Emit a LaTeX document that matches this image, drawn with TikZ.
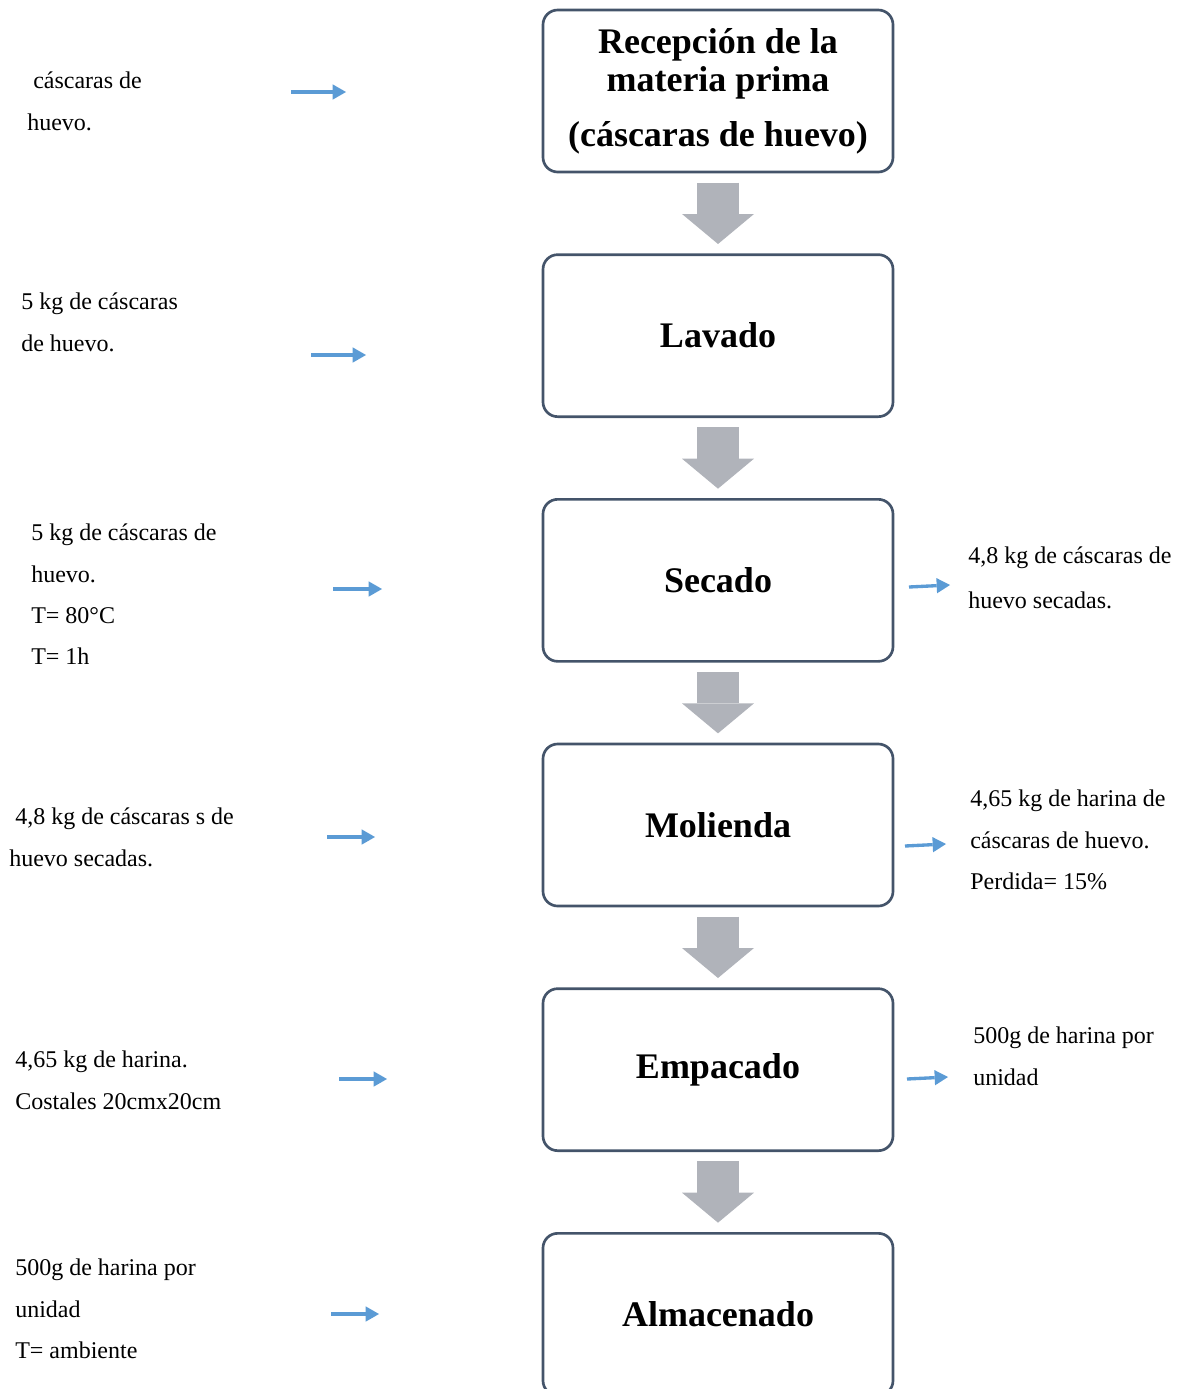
\documentclass[tikz,border=0pt]{standalone}
\usepackage{fontspec}
\setmainfont{Liberation Serif}
\usetikzlibrary{arrows.meta, positioning}

\definecolor{boxline}{HTML}{44546A}
\definecolor{flowgray}{HTML}{B0B3BA}
\definecolor{feedblue}{HTML}{5B9BD5}

\tikzset{
    stage/.style={draw=boxline, line width=2pt, rounded corners=11pt,
        minimum width=262.5pt, minimum height=121.5pt, align=center,
        font=\fontsize{27}{29}\selectfont\bfseries},
    flow/.style={draw=flowgray, line width=32pt,
        -{Triangle[length=22.5pt, width=54pt, line width=0pt]},
        shorten <=7pt, shorten >=7pt},
    feed/.style={draw=feedblue, line width=2.5pt,
        -{Triangle[length=10pt, width=11.5pt, line width=0pt]}},
    note/.style={anchor=north west, inner sep=0pt, align=left,
        font=\fontsize{18}{31}\selectfont, execute at begin node=\strut},
}

\begin{document}
\begin{tikzpicture}[x=0.75pt, y=-0.75pt, node distance=60pt]
    \useasboundingbox (0,0) rectangle (1179,1389);

    % process stages
    \node[stage] (recepcion) at (718,91) {Recepción de la\\materia prima\\[12pt](cáscaras de huevo)};
    \node[stage, below=of recepcion] (lavado) {Lavado};
    \node[stage, below=of lavado] (secado) {Secado};
    \node[stage, below=of secado] (molienda) {Molienda};
    \node[stage, below=of molienda] (empacado) {Empacado};
    \node[stage, below=of empacado] (almacenado) {Almacenado};

    \draw[flow] (recepcion) -- (lavado);
    \draw[flow] (lavado) -- (secado);
    \draw[flow] (secado) -- (molienda);
    \draw[flow] (molienda) -- (empacado);
    \draw[flow] (empacado) -- (almacenado);

    % inputs
    \node[note] (in1) at (27,72) {\hspace{4.5pt}cáscaras de\\huevo.};
    \node[note] (in2) at (21,293) {5 kg de cáscaras\\de huevo.};
    \node[note] (in3) at (31,524) {5 kg de cáscaras de\\huevo.\\T= 80°C\\T= 1h};
    \node[note] (in4) at (9,808) {\hspace{4.5pt}4,8 kg de cáscaras s de\\huevo secadas.};
    \node[note] (in5) at (15,1051) {4,65 kg de harina.\\Costales 20cmx20cm};
    \node[note] (in6) at (15,1259) {500g de harina por\\unidad\\T= ambiente};

    % outputs
    \node[note] (out3) at (968,547) {4,8 kg de cáscaras de\\[2.25pt]huevo secadas.};
    \node[note] (out4) at (970,790) {4,65 kg de harina de\\cáscaras de huevo.\\Perdida= 15\%};
    \node[note] (out5) at (973,1027) {500g de harina por\\unidad};

    \coordinate (a1) at (291,92);   \coordinate (b1) at (346,92);
    \coordinate (a2) at (311,355);  \coordinate (b2) at (366,355);
    \coordinate (a3) at (333,589);  \coordinate (b3) at (382,589);
    \coordinate (a4) at (327,837);  \coordinate (b4) at (375,837);
    \coordinate (a5) at (339,1079); \coordinate (b5) at (387,1079);
    \coordinate (a6) at (331,1314); \coordinate (b6) at (379,1314);
    \coordinate (c3) at (909,587);  \coordinate (d3) at (950,585);
    \coordinate (c4) at (905,846);  \coordinate (d4) at (946,844);
    \coordinate (c5) at (907,1079); \coordinate (d5) at (948,1077);

    \draw[feed] (a1) -- (b1);
    \draw[feed] (a2) -- (b2);
    \draw[feed] (a3) -- (b3);
    \draw[feed] (a4) -- (b4);
    \draw[feed] (a5) -- (b5);
    \draw[feed] (a6) -- (b6);
    \draw[feed] (c3) -- (d3);
    \draw[feed] (c4) -- (d4);
    \draw[feed] (c5) -- (d5);
\end{tikzpicture}
\end{document}
